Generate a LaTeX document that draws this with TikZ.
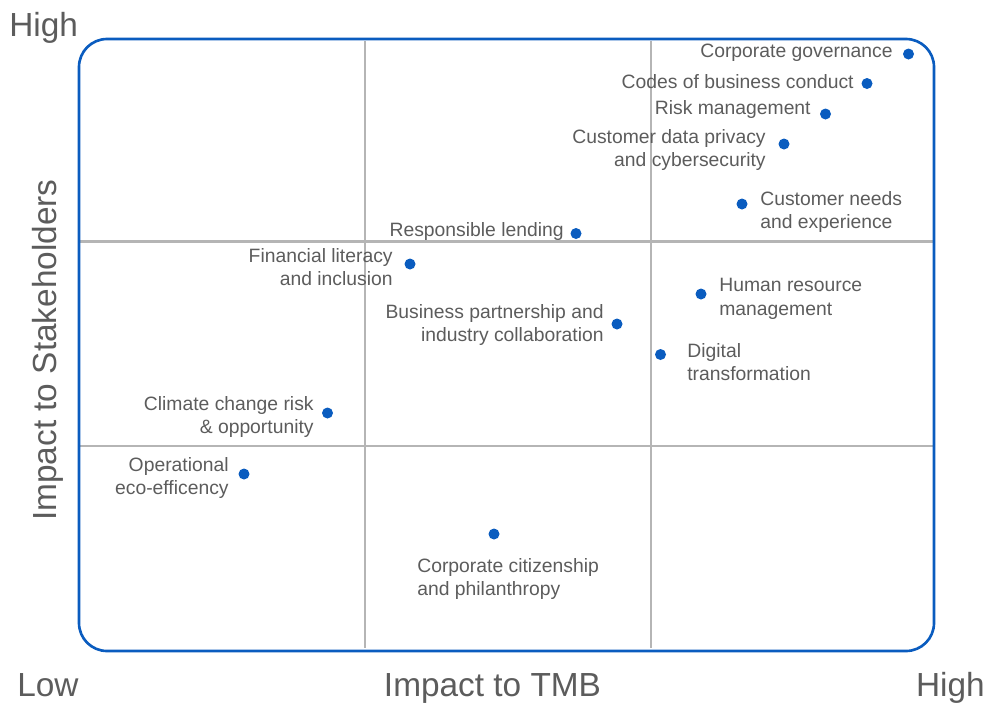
\documentclass[tikz,border=0pt]{standalone}
\usepackage{fontspec}
\setmainfont{Liberation Sans}
\usepackage{xcolor}
\definecolor{tmbblue}{HTML}{0A5CBF}
\definecolor{txtgray}{HTML}{5C5C5C}
\definecolor{gridgray}{HTML}{B5B5B5}
\tikzset{
	dot/.style={circle,fill=tmbblue,inner sep=0pt,minimum size=0.22cm},
	lbl/.style={inner sep=0pt,text=txtgray,font=\fontsize{11}{13.4}\selectfont},
	axislbl/.style={inner sep=0pt,text=txtgray,font=\fontsize{19}{22}\selectfont},
	gridline/.style={gridgray,line width=1.3pt}
}
\begin{document}
\begin{tikzpicture}[x=0.02cm,y=-0.02cm]
\useasboundingbox (0,0) rectangle (987,704);

% quadrants
\foreach\x in {365,651}{
	\draw[gridline](\x,41)--(\x,648);}
\foreach\y in {241.5,446}{
	\draw[gridline](80,\y)--(934,\y);}
\draw[tmbblue,line width=1.5pt,rounded corners=0.56cm](79,39) rectangle (934,651);

% topics
\node[dot] (gov) at (908.5,54) {};
\node[dot] (codes) at (867,83.5) {};
\node[dot] (risk) at (825.5,114) {};
\node[dot] (privacy) at (784,144) {};
\node[dot] (needs) at (742,204) {};
\node[dot] (lending) at (576,233.5) {};
\node[dot] (literacy) at (410,264) {};
\node[dot] (hr) at (701,294) {};
\node[dot] (partner) at (617,324) {};
\node[dot] (digital) at (660.5,354.5) {};
\node[dot] (climate) at (327.5,413) {};
\node[dot] (eco) at (244,474) {};
\node[dot] (citizen) at (494,534) {};

\node[lbl,anchor=north east] (govlbl) at (893,44) {Corporate governance};
\node[lbl,anchor=north east] (codeslbl) at (854,74) {Codes of business conduct};
\node[lbl,anchor=north east] (risklbl) at (811,100) {Risk management};
\node[lbl,anchor=north east,align=right] (privacylbl) at (766,129) {Customer data privacy\\and cybersecurity};
\node[lbl,anchor=north west,align=left] (needslbl) at (760,191) {Customer needs\\and experience};
\node[lbl,anchor=north east] (lendinglbl) at (564,222) {Responsible lending};
\node[lbl,anchor=north east,align=right] (literacylbl) at (393,248) {Financial literacy\\and inclusion};
\node[lbl,anchor=north west,align=left] (hrlbl) at (719,278) {Human resource\\management};
\node[lbl,anchor=north east,align=right] (partnerlbl) at (604,304) {Business partnership and\\industry collaboration};
\node[lbl,anchor=north west,align=left] (digitallbl) at (687,343) {Digital\\transformation};
\node[lbl,anchor=north east,align=right] (climatelbl) at (314,396) {Climate change risk\\\& opportunity};
\node[lbl,anchor=north east,align=right] (ecolbl) at (229,457) {Operational\\eco-efficency};
\node[lbl,anchor=north west,align=left] (citizenlbl) at (417,558) {Corporate citizenship\\and philanthropy};

% axes
\node[axislbl,anchor=north west] (yhigh) at (9,12) {High};
\node[axislbl,anchor=north west] (xlow) at (17,673) {Low};
\node[axislbl,anchor=north] (xtitle) at (492.5,673) {Impact to TMB};
\node[axislbl,anchor=north east] (xhigh) at (985,672) {High};
\node[axislbl,anchor=north,rotate=90] (ytitle) at (32,350) {Impact to Stakeholders};
\end{tikzpicture}
\end{document}
